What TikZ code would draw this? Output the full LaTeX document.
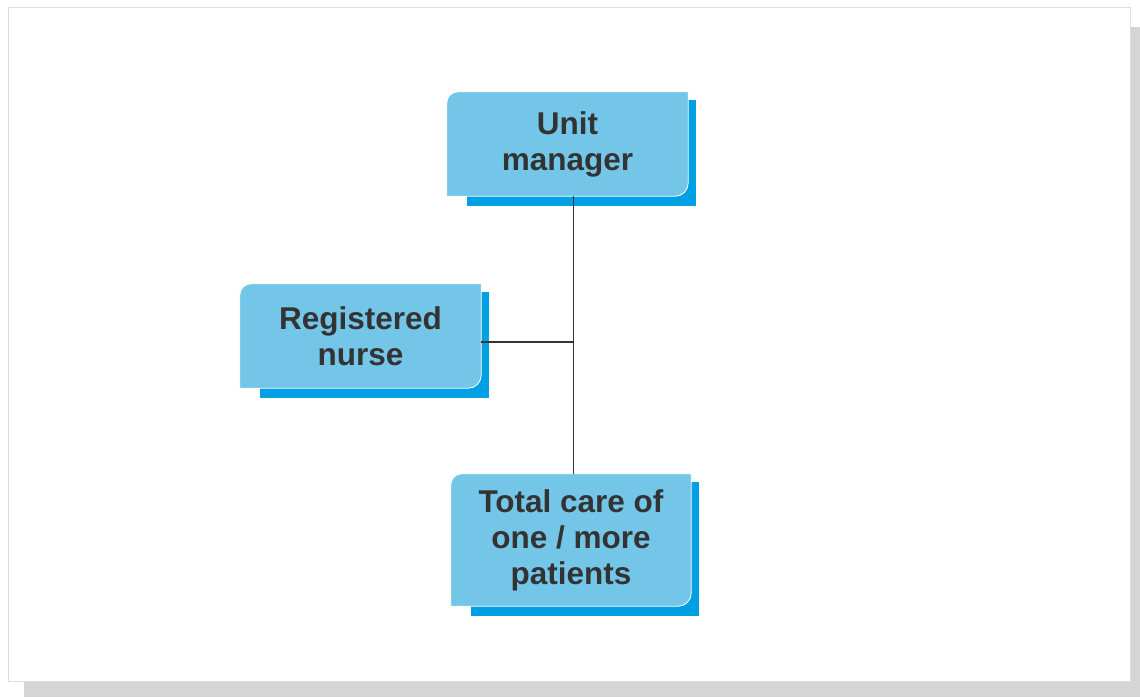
\documentclass[tikz,border=0pt]{standalone}
\usepackage{fontspec}
\setmainfont{Liberation Sans}
\usetikzlibrary{backgrounds}
\definecolor{boxblue}{HTML}{74C6E9}
\definecolor{shadeblue}{HTML}{00A0E2}
\definecolor{textgray}{HTML}{333333}
\definecolor{framegray}{HTML}{D5D5D5}
\tikzset{
  rolebox/.style={minimum width=241pt, minimum height=104pt, inner sep=0pt,
    align=center, text=textgray, font=\bfseries\fontsize{31.5}{36}\selectfont},
  link/.style={draw=textgray, line width=1.2pt}
}
\begin{document}
\begin{tikzpicture}[x=1pt,y=1pt]
  \useasboundingbox (0,0) rectangle (1140,-697);
  % roles
  \node[rolebox] (um) at (567.5,-144) {Unit\\manager};
  \node[rolebox] (rn) at (360.5,-336) {Registered\\nurse};
  \node[rolebox, minimum width=240pt, minimum height=132pt] (tc) at (571,-540) {Total care of\\one / more\\patients};
  \coordinate (spine) at (573.5,0);
  \begin{scope}[on background layer]
    % page frame with its shadow
    \fill[framegray] (24,-27) rectangle (1140,-697);
    \draw[fill=white, draw=framegray!80, line width=1pt] (8,-7) rectangle (1130,-681);
    \foreach \n in {um,rn,tc} {
      \fill[shadeblue] ([shift={(20pt,-10pt)}]\n.south west) rectangle ([shift={(8pt,-8pt)}]\n.north east);
      \draw[fill=boxblue, draw=white, line width=0.8pt]
        (\n.south west) -- ([yshift=-11pt]\n.north west)
        arc[start angle=180, end angle=90, radius=11pt]
        -- (\n.north east) -- ([yshift=13pt]\n.south east)
        arc[start angle=0, end angle=-90, radius=13pt] -- cycle;
    }
  \end{scope}
  % connectors
  \draw[link] (um.south -| spine) -- (tc.north -| spine);
  \draw[link] ([yshift=-6pt]rn.east) -- ([yshift=-6pt]rn.east -| spine);
\end{tikzpicture}
\end{document}
